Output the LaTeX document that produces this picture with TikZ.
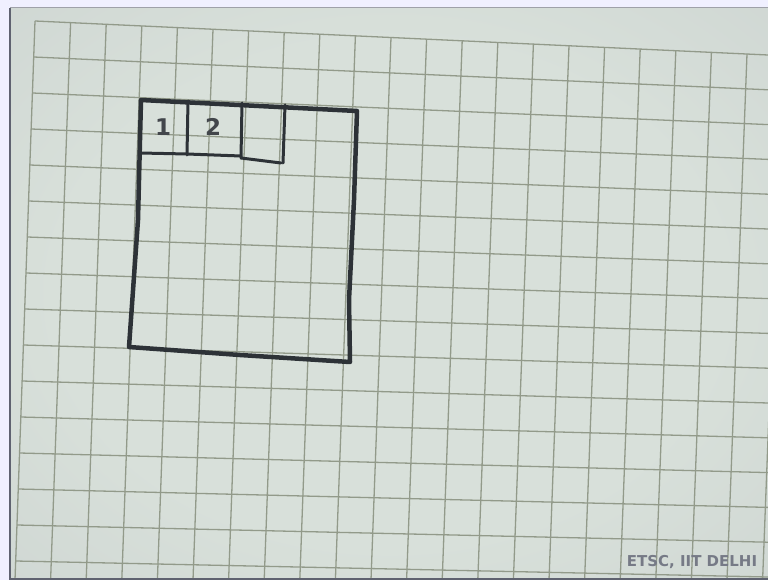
\documentclass[tikz,border=0pt]{standalone}
\usepackage{fontspec}
\newfontfamily\handfont{DejaVu Sans}
\usepackage{tikz}
\usepackage{xcolor}
\definecolor{paperlight}{RGB}{216,224,218}
\definecolor{papermid}{RGB}{200,207,205}
\definecolor{paperdark}{RGB}{172,175,192}
\definecolor{paperedge}{RGB}{95,98,112}
\definecolor{gridline}{RGB}{146,154,138}
\definecolor{marker}{RGB}{45,50,55}
\definecolor{stampgrey}{RGB}{118,122,134}
\pgfdeclareradialshading{paperglow}{\pgfpoint{0bp}{0bp}}{color(0bp)=(paperlight); color(22bp)=(paperlight); color(50bp)=(papermid); color(72bp)=(paperdark)}

\begin{document}
\begin{tikzpicture}[x=1bp, y=-1bp,
    pen/.style={marker, line width=4.5bp, line join=round, line cap=round},
    thinpen/.style={marker, line width=3bp, line cap=round},
    digit/.style={font=\handfont\bfseries\fontsize{23bp}{26bp}\selectfont, text=marker!90!white, inner sep=0pt},
    stamp/.style={font=\handfont\bfseries\fontsize{15bp}{18bp}\selectfont, text=stampgrey, inner sep=0pt}]
        \useasboundingbox (0,0) rectangle (768,580);
        % photo background and sheet
        \fill[white!94!blue] (0,0) rectangle (768,580);
        \shade[shading=paperglow] (10,8) rectangle (768,580);
        \draw[paperedge, line width=1.5bp] (10,580) -- (10,8);
        \draw[paperedge!60!white, line width=1bp] (10,8) -- (768,8);
        % square grid of the sheet
        \begin{scope}
          \clip (10,8) rectangle (768,580);
          \foreach \i in {0,...,21}
            \draw[gridline, line width=1.3bp] ({35+35.6*\i},{21+1.64*\i}) -- ({15+35.6*\i},580);
          \foreach \j in {0,...,15}
            \draw[gridline, line width=1.3bp] ({35-1.29*\j},{21+36*\j}) -- (768,{55+34.8*\j});
        \end{scope}
        \draw[paperedge, line width=2bp] (10,579) -- (768,579);
        % big square
        \draw[pen] (141,100) -- (357,111) -- (354,200) -- (349,300) -- (350,362)
            -- (240,355) -- (129,347) -- (138,220) -- cycle;
        % row of cells along the top
        \draw[thinpen] (140,153) -- (187,154) -- (241,156);
        \draw[thinpen] (241,158) -- (281,163);
        \draw[thinpen] (188,101) -- (187,155);
        \draw[thinpen] (242,103) -- (241,158);
        \draw[thinpen] (285,105) -- (283,163);
        \node[digit] (one) at (163,127) {1};
        \node[digit] (two) at (213,127) {2};
        % watermark
        \node[stamp] (mark) at (692,562) {ETSC, IIT DELHI};
      \end{tikzpicture}
\end{document}
